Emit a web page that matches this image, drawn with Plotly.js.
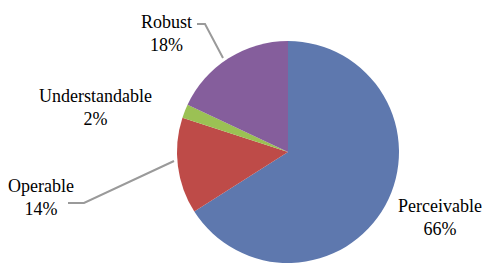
<!DOCTYPE html>
<html>
<head>
<meta charset="utf-8">
<script src="https://cdn.plot.ly/plotly-3.0.1.min.js"></script>
<style>html,body{margin:0;padding:0;background:#fff;}#chart{width:484px;height:264px;}</style>
</head>
<body>
<div id="chart"></div>
<script>
var labels = ["Perceivable", "Operable", "Understandable", "Robust"];
var values = [66, 14, 2, 18];
var colors = ["#5E78AE", "#BE4B48", "#9BC154", "#855E9C"];

var W = 484, H = 264;
function px(x) { return x / W; }
function py(y) { return 1 - y / H; }

// label block centres (pixel), in same order as labels
var labelPos = [[440, 217], [41, 197], [95, 107], [166, 33]];

var annotations = labels.map(function (l, i) {
  return {
    xref: "paper", yref: "paper",
    x: px(labelPos[i][0]), y: py(labelPos[i][1]),
    xanchor: "center", yanchor: "middle",
    text: l + "<br>" + values[i] + "%",
    showarrow: false,
    font: {family: "'Liberation Serif', 'Times New Roman', serif", size: 18, color: "#000"}
  };
});

function pathOf(pts) {
  return pts.map(function (p, i) { return (i ? "L" : "M") + px(p[0]) + "," + py(p[1]); }).join(" ");
}
var shapes = [
  {type: "path", xref: "paper", yref: "paper", path: pathOf([[197, 24], [205, 24], [223, 58]]), line: {color: "#9a9a9a", width: 2}},
  {type: "path", xref: "paper", yref: "paper", path: pathOf([[68, 203], [84, 203], [174, 161]]), line: {color: "#9a9a9a", width: 2}}
];

var cx = 288, cy = 152, r = 111;
var data = [{
  type: "pie",
  labels: labels,
  values: values,
  sort: false,
  direction: "clockwise",
  rotation: 0,
  textinfo: "none",
  hoverinfo: "none",
  marker: {colors: colors, line: {width: 0}},
  domain: {x: [px(cx - r), px(cx + r)], y: [py(cy + r), py(cy - r)]}
}];

var layout = {
  width: W, height: H,
  margin: {l: 0, r: 0, t: 0, b: 0},
  paper_bgcolor: "#fff",
  showlegend: false,
  annotations: annotations,
  shapes: shapes
};
Plotly.newPlot("chart", data, layout, {displayModeBar: false, staticPlot: true});
</script>
</body>
</html>
